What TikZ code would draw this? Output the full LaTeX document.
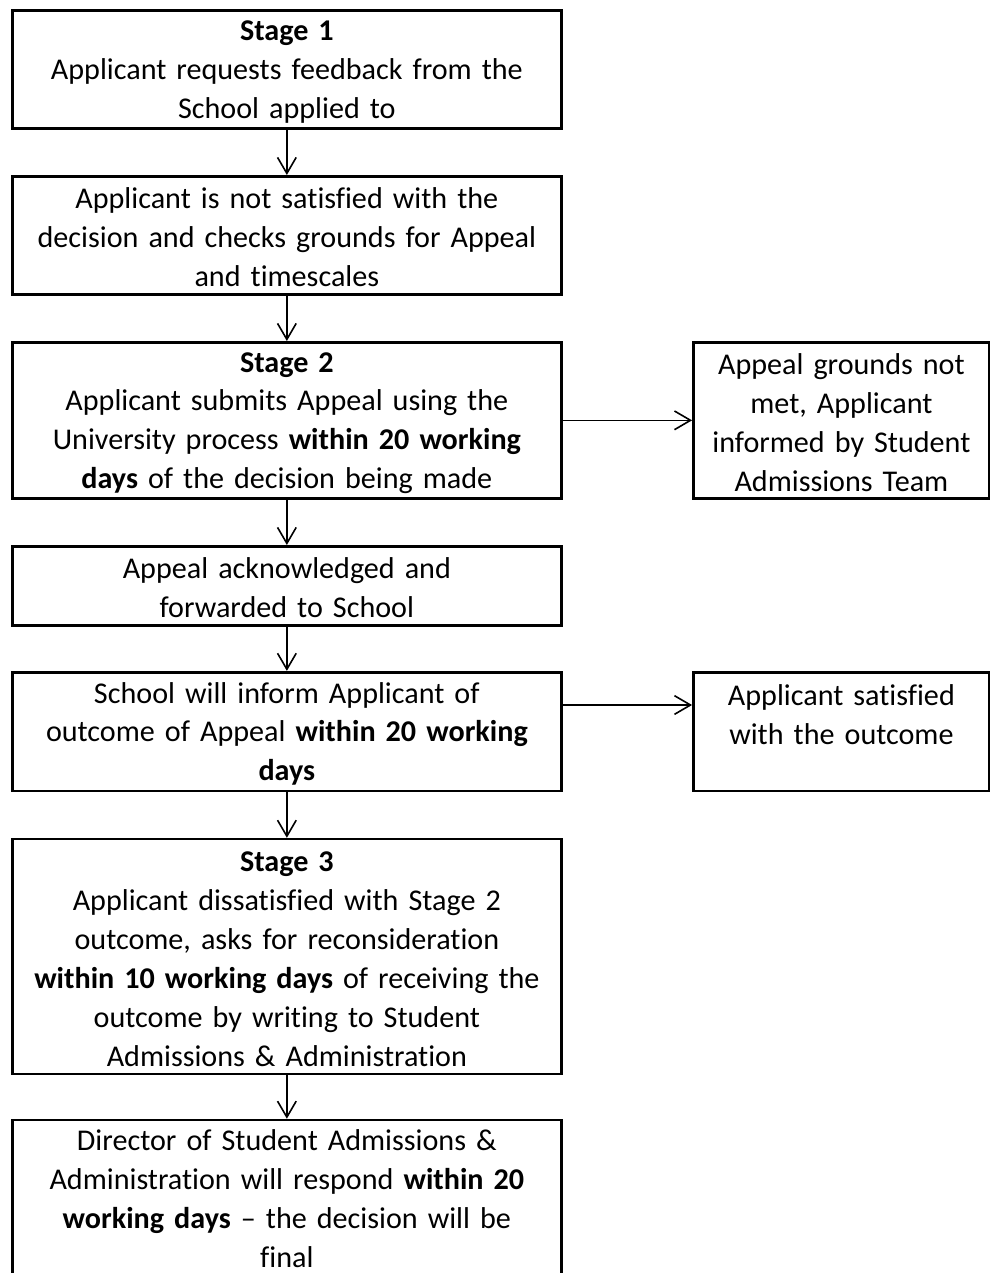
\documentclass[tikz,border=0pt]{standalone}
\usepackage{fontspec}
\setmainfont{Carlito}[Ligatures={TeX,NoCommon}]
\usetikzlibrary{positioning,arrows.meta}

\begin{document}
\begin{tikzpicture}[>={Straight Barb[length=6pt,width=7pt]}, node distance=17pt,
  every node/.style={font=\fontsize{11.3}{14.6}\selectfont}, align=center,
  top gap/.initial=9.5pt,
  box/.style={draw, line width=1pt, inner xsep=2pt, inner ysep=0.5pt, minimum width=205.9pt, text width=200pt,
    execute at begin node={\rule{0pt}{\pgfkeysvalueof{/tikz/top gap}}}},
  sidebox/.style={box, minimum width=111pt, text width=106pt},
  link/.style={->, line width=0.6pt}]

% Page area
\useasboundingbox (0,0) rectangle (370.875pt,-477.375pt);

% Nodes
\node (s1) [box, anchor=north west, minimum height=44.25pt] at (4.125pt,-3.375pt) {\textbf{Stage 1}\\ Applicant requests feedback from the\\ School applied to};
\node (check) [box, below=of s1, minimum height=44.25pt] {Applicant is not satisfied with the\\ decision and checks grounds for Appeal\\ and timescales};
\node (s2) [box, below=of check, minimum height=58.5pt] {\textbf{Stage 2}\\ Applicant submits Appeal using the\\ University process \textbf{within 20 working}\\ \textbf{days} of the decision being made};
\node (notmet) [sidebox, right=48.5pt of s2, minimum height=58.5pt] {Appeal grounds not\\ met, Applicant\\ informed by Student\\ Admissions Team};
\node (ack) [box, below=of s2, minimum height=29.6pt] {Appeal acknowledged and\\ forwarded to School};
\node (inform) [box, below=16.6pt of ack, minimum height=44.6pt] {School will inform Applicant of\\ outcome of Appeal \textbf{within 20 working}\\ \textbf{days}};
\node (happy) [sidebox, right=48.5pt of inform, minimum height=44.6pt] {Applicant satisfied\\ with the outcome\\ \mbox{}};
\node (s3) [box, below=of inform, minimum height=88.1pt] {\textbf{Stage 3}\\ Applicant dissatisfied with Stage 2\\ outcome, asks for reconsideration\\ \textbf{within 10 working days} of receiving the\\ outcome by writing to Student\\ Admissions \& Administration};
\node (final) [box, below=16.25pt of s3, minimum height=58.9pt, top gap=8pt] {Director of Student Admissions \&\\ Administration will respond \textbf{within 20}\\ \textbf{working days} -- the decision will be\\ final};

% Arrows
\draw[link] (s1) -- (check);
\draw[link] (check) -- (s2);
\draw[link] (s2) -- (notmet);
\draw[link] (s2) -- (ack);
\draw[link] (ack) -- (inform);
\draw[link] ([yshift=10pt]inform.east) -- ([yshift=10pt]happy.west);
\draw[link] (inform) -- (s3);
\draw[link] (s3) -- (final);

\end{tikzpicture}
\end{document}
